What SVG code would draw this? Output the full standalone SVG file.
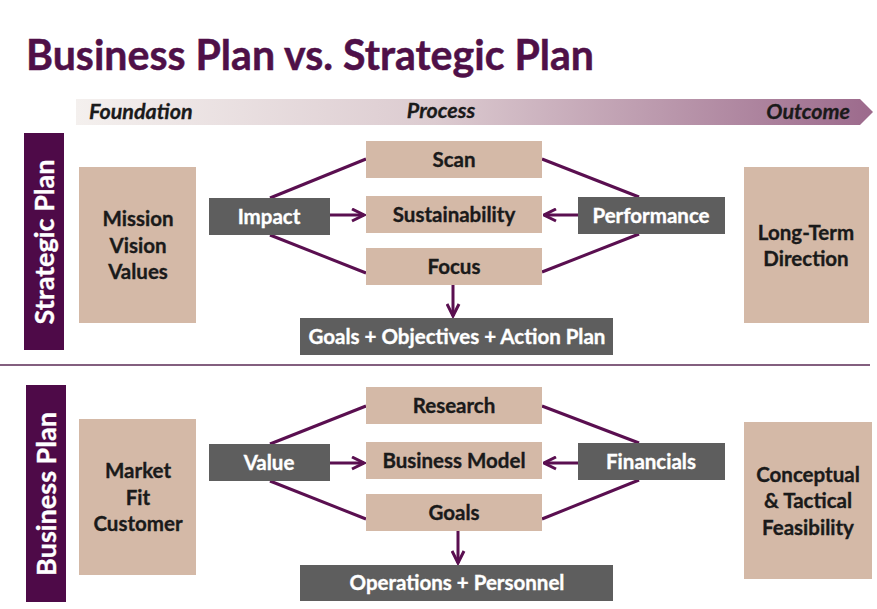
<svg xmlns="http://www.w3.org/2000/svg" width="877" height="609" viewBox="0 0 877 609">
<defs>
<linearGradient id="band" x1="0" y1="0" x2="1" y2="0">
<stop offset="0" stop-color="#f4f0ee"/>
<stop offset="0.45" stop-color="#dccbd0"/>
<stop offset="1" stop-color="#9c6a8c"/>
</linearGradient>
<marker id="ah" viewBox="0 0 10 10" refX="9" refY="5" markerWidth="5" markerHeight="5" orient="auto" markerUnits="strokeWidth">
<path d="M1,1 L9,5 L1,9" fill="none" stroke="#5a0f50" stroke-width="2"/>
</marker>
<style>
.t{font-family:Lato,"Open Sans","Liberation Sans",sans-serif;font-weight:bold;}
.tan{fill:#d4b9a7;}
.gray{fill:#5e5e5e;}
.bar{fill:#4e0a48;}
.dk{fill:#1a1a1a;font-size:20.5px;text-anchor:middle;stroke:#1a1a1a;stroke-width:0.35px;}
.wt{fill:#ffffff;font-size:20.5px;text-anchor:middle;stroke:#ffffff;stroke-width:0.35px;}
.vt{fill:#ffffff;font-size:27px;text-anchor:middle;stroke:#ffffff;stroke-width:0.35px;}
.bn{fill:#1a1a1a;font-size:21.5px;font-style:italic;stroke:#1a1a1a;stroke-width:0.3px;}
.ln{stroke:#5a0f50;stroke-width:3;fill:none;}
.ar{stroke:#5a0f50;stroke-width:3;fill:none;marker-end:url(#ah);}
</style>
</defs>
<rect width="877" height="609" fill="#ffffff"/>
<text class="t" x="26" y="70" font-size="42" fill="#4f1048" stroke="#4f1048" stroke-width="0.5" textLength="568" lengthAdjust="spacingAndGlyphs">Business Plan vs. Strategic Plan</text>

<g id="banner">
<path d="M76,99 L860,99 L873,112 L860,125 L76,125 Z" fill="url(#band)"/>
<text class="t bn" x="89" y="119">Foundation</text>
<text class="t bn" x="441" y="118" text-anchor="middle">Process</text>
<text class="t bn" x="850" y="119" text-anchor="end">Outcome</text>
</g>

<line x1="0" y1="365" x2="870" y2="365" stroke="#5a2a55" stroke-width="1.5"/>

<g id="connectors">
<line class="ln" x1="270" y1="198" x2="366" y2="159"/>
<line class="ln" x1="270" y1="235" x2="366" y2="273"/>
<line class="ln" x1="542" y1="159" x2="639" y2="197"/>
<line class="ln" x1="542" y1="272" x2="639" y2="234"/>
<line class="ar" x1="330" y1="215" x2="364" y2="215"/>
<line class="ar" x1="578" y1="215" x2="544" y2="215"/>
<line class="ar" x1="453" y1="285" x2="453" y2="316"/>
<line class="ln" x1="270" y1="444" x2="366" y2="406"/>
<line class="ln" x1="270" y1="481" x2="366" y2="519"/>
<line class="ln" x1="542" y1="406" x2="639" y2="443"/>
<line class="ln" x1="542" y1="519" x2="639" y2="480"/>
<line class="ar" x1="330" y1="463" x2="364" y2="463"/>
<line class="ar" x1="578" y1="463" x2="544" y2="463"/>
<line class="ar" x1="458" y1="531" x2="458" y2="563"/>
</g>

<g id="strategic-label"><rect class="bar" x="24" y="133" width="40" height="217"/><text class="t vt" transform="translate(54,242) rotate(-90)">Strategic Plan</text></g>
<g id="mission"><rect class="tan" x="79" y="167" width="117" height="156"/><text class="t dk" x="138" y="226">Mission</text><text class="t dk" x="138" y="253">Vision</text><text class="t dk" x="138" y="279">Values</text></g>
<g id="impact"><rect class="gray" x="209" y="198" width="121" height="37"/><text class="t wt" x="269" y="224">Impact</text></g>
<g id="scan"><rect class="tan" x="366" y="141" width="176" height="37"/><text class="t dk" x="454" y="167">Scan</text></g>
<g id="sustainability"><rect class="tan" x="366" y="196" width="176" height="37"/><text class="t dk" x="454" y="222">Sustainability</text></g>
<g id="focus"><rect class="tan" x="366" y="248" width="176" height="37"/><text class="t dk" x="454" y="274">Focus</text></g>
<g id="performance"><rect class="gray" x="578" y="197" width="147" height="37"/><text class="t wt" x="651" y="223">Performance</text></g>
<g id="longterm"><rect class="tan" x="744" y="167" width="125" height="156"/><text class="t dk" x="806" y="240">Long-Term</text><text class="t dk" x="806" y="266">Direction</text></g>
<g id="goals-objectives"><rect class="gray" x="300" y="318" width="313" height="37"/><text class="t wt" x="457" y="344">Goals + Objectives + Action Plan</text></g>

<g id="business-label"><rect class="bar" x="26" y="385" width="40" height="217"/><text class="t vt" transform="translate(56,494) rotate(-90)">Business Plan</text></g>
<g id="market"><rect class="tan" x="79" y="419" width="117" height="156"/><text class="t dk" x="138" y="478">Market</text><text class="t dk" x="138" y="505">Fit</text><text class="t dk" x="138" y="531">Customer</text></g>
<g id="value"><rect class="gray" x="209" y="444" width="121" height="37"/><text class="t wt" x="269" y="470">Value</text></g>
<g id="research"><rect class="tan" x="366" y="387" width="176" height="37"/><text class="t dk" x="454" y="413">Research</text></g>
<g id="business-model"><rect class="tan" x="366" y="442" width="176" height="37"/><text class="t dk" x="454" y="468">Business Model</text></g>
<g id="goals"><rect class="tan" x="366" y="494" width="176" height="37"/><text class="t dk" x="454" y="520">Goals</text></g>
<g id="financials"><rect class="gray" x="578" y="443" width="147" height="37"/><text class="t wt" x="651" y="469">Financials</text></g>
<g id="feasibility"><rect class="tan" x="744" y="422" width="128" height="157"/><text class="t dk" x="808" y="482">Conceptual</text><text class="t dk" x="808" y="508">&amp; Tactical</text><text class="t dk" x="808" y="535">Feasibility</text></g>
<g id="operations"><rect class="gray" x="300" y="565" width="313" height="36"/><text class="t wt" x="457" y="590">Operations + Personnel</text></g>
</svg>
